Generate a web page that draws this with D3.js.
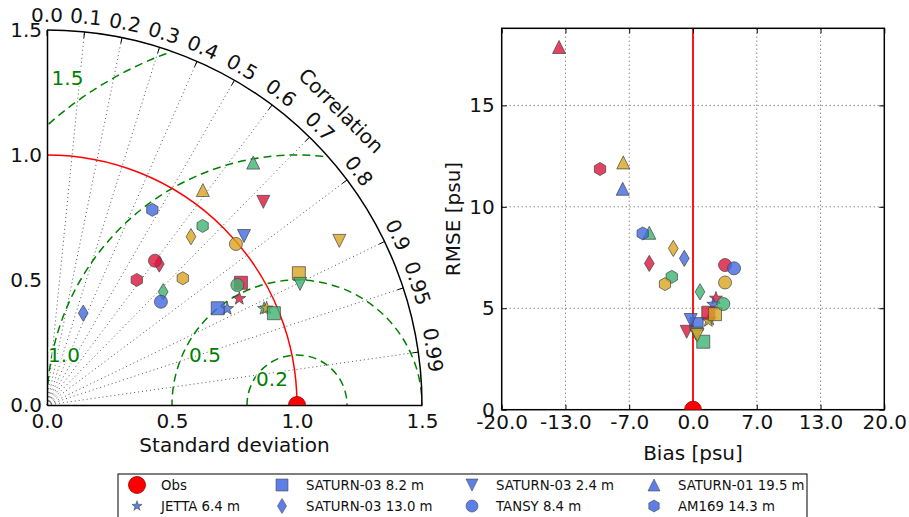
<!DOCTYPE html>
<html>
<head>
<meta charset="utf-8">
<title>Taylor diagram | bias and RMSE</title>
<script src="https://d3js.org/d3.v7.min.js"></script>
<style>
body {
    margin: 0;
    background: white;
}
svg text {
    font-family: "DejaVu Sans", sans-serif;
}
</style>
</head>
<body>
<script>
// one marker per station, one colour per column of the value tables
var stations = ["JETTA 6.4 m", "SATURN-03 8.2 m", "SATURN-03 13.0 m", "SATURN-03 2.4 m",
                "TANSY 8.4 m", "SATURN-01 19.5 m", "AM169 14.3 m"];
var markers = ["star", "square", "diamond", "triDown", "circle", "triUp", "hexagon"];
var colors = ["#dc143c", "#4169e1", "#3cb371", "#daa520"];

// normalised standard deviation (rows = stations, cols = colors); null = outside the diagram
var stdDev = [
  [0.879, 0.817, 0.950, 0.960],
  [0.917, 0.785, 0.979, 1.137],
  [0.721, 0.395, 0.649, 0.886],
  [1.187, 1.038, 1.122, 1.341],
  [0.721, 0.615, 0.900, 0.993],
  [null,  null,  1.273, 1.062],
  [0.616, 0.887, 0.949, 0.743]
];
var corrCoef = [
  [0.875, 0.882, 0.914, 0.915],
  [0.846, 0.870, 0.927, 0.886],
  [0.623, 0.367, 0.716, 0.650],
  [0.729, 0.759, 0.902, 0.872],
  [0.599, 0.741, 0.846, 0.761],
  [null,  null,  0.648, 0.587],
  [0.583, 0.475, 0.656, 0.731]
];
// bias [psu] and RMSE [psu]
var bias = [
  [2.40, 2.12, 1.75, 1.60],
  [1.60, 0.38, 1.07, 2.30],
  [-4.57, -0.91, 0.73, -2.06],
  [-0.66, -0.24, 0.30, 0.45],
  [3.35, 4.29, 3.17, 3.35],
  [-14.0, -7.35, -4.57, -7.29],
  [-9.72, -5.26, -2.22, -2.93]
];
var rmse = [
  [5.49, 5.19, 4.45, 4.38],
  [4.78, 4.22, 3.35, 4.71],
  [7.21, 7.46, 5.81, 7.95],
  [3.84, 4.42, 3.75, 3.68],
  [7.13, 6.97, 5.21, 6.27],
  [17.88, 10.89, 8.72, 12.19],
  [11.86, 8.69, 6.55, 6.19]
];

var corrTicks = [0, 0.1, 0.2, 0.3, 0.4, 0.5, 0.6, 0.7, 0.8, 0.9, 0.95, 0.99];
var stdTicks = [0, 0.5, 1.0, 1.5];
var rmsLevels = [0.2, 0.5, 1.0, 1.5];
var biasTickLabels = ["-20.0", "-13.0", "-7.0", "0.0", "7.0", "13.0", "20.0"];
var rmseTicks = [0, 5, 10, 15];

var width = 909, height = 517;
var fs = 20;   // axis font size
var svg = d3.select("body").append("svg")
    .attr("width", width)
    .attr("height", height);

// marker shapes, s = half size in px
function markerPath(type, s) {
  var p = d3.path();
  if (type == "circle") {
    p.arc(0, 0, s, 0, 2 * Math.PI);
  } else if (type == "square") {
    p.rect(-s, -s, 2 * s, 2 * s);
  } else if (type == "triUp") {
    p.moveTo(0, -s); p.lineTo(s, s); p.lineTo(-s, s); p.closePath();
  } else if (type == "triDown") {
    p.moveTo(0, s); p.lineTo(s, -s); p.lineTo(-s, -s); p.closePath();
  } else if (type == "diamond") {
    s = s * 1.25;
    p.moveTo(0, -s); p.lineTo(0.6 * s, 0); p.lineTo(0, s); p.lineTo(-0.6 * s, 0); p.closePath();
  } else if (type == "hexagon") {
    for (var k = 0; k < 6; k++) {
      var a = -Math.PI / 2 + k * Math.PI / 3;
      if (k == 0) p.moveTo(s * Math.cos(a), s * Math.sin(a));
      else p.lineTo(s * Math.cos(a), s * Math.sin(a));
    }
    p.closePath();
  } else if (type == "star") {
    s = s * 1.05;
    for (var k = 0; k < 10; k++) {
      var a = -Math.PI / 2 + k * Math.PI / 5;
      var r = k % 2 == 0 ? s : s * 0.4;
      if (k == 0) p.moveTo(r * Math.cos(a), r * Math.sin(a));
      else p.lineTo(r * Math.cos(a), r * Math.sin(a));
    }
    p.closePath();
  }
  return p.toString();
}
function drawMarker(g, type, color, x, y, s) {
  g.append("path")
    .attr("d", markerPath(type, s))
    .attr("transform", "translate(" + x + "," + y + ")")
    .attr("fill", color)
    .attr("fill-opacity", 0.8)
    .attr("stroke", "#444")
    .attr("stroke-opacity", 0.8)
    .attr("stroke-width", 0.9);
}

// ===== Taylor diagram =====
var ox = 47, oy = 405, R = 375;
var rScale = d3.scaleLinear().domain([0, 1.5]).range([0, R]);
function polar(sd, c) {
  var t = Math.acos(c);
  return [ox + rScale(sd) * Math.cos(t), oy - rScale(sd) * Math.sin(t)];
}
function xy(x, y) { return [ox + rScale(x), oy - rScale(y)]; }

var defs = svg.append("defs");
defs.append("clipPath").attr("id", "quarter")
  .append("path")
  .attr("d", "M" + ox + "," + oy + "L" + (ox + R) + "," + oy +
       "A" + R + "," + R + " 0 0 0 " + ox + "," + (oy - R) + "Z");
defs.append("clipPath").attr("id", "aboveAxis")
  .append("rect").attr("x", 0).attr("y", 0).attr("width", 460).attr("height", oy);

var tg = svg.append("g");

// radial correlation grid
tg.selectAll(".rgrid")
  .data(corrTicks.filter(function(c) { return c > 0; }))
  .enter().append("line")
  .attr("x1", ox).attr("y1", oy)
  .attr("x2", function(c) { return polar(1.5, c)[0]; })
  .attr("y2", function(c) { return polar(1.5, c)[1]; })
  .attr("stroke", "#555")
  .attr("stroke-width", 1)
  .attr("stroke-dasharray", "1,3");

// centred RMS difference contours
var ref = xy(1, 0);
tg.append("g").attr("clip-path", "url(#quarter)")
  .selectAll("circle")
  .data(rmsLevels)
  .enter().append("circle")
  .attr("cx", ref[0]).attr("cy", ref[1])
  .attr("r", function(d) { return rScale(d); })
  .attr("fill", "none")
  .attr("stroke", "#008000")
  .attr("stroke-width", 1.5)
  .attr("stroke-dasharray", "8,5");

// reference std arc
tg.append("path")
  .attr("d", "M" + (ox + rScale(1)) + "," + oy + "A" + rScale(1) + "," + rScale(1) +
       " 0 0 0 " + ox + "," + (oy - rScale(1)))
  .attr("fill", "none").attr("stroke", "red").attr("stroke-width", 1.5);

// outer arc
tg.append("path")
  .attr("d", "M" + (ox + R) + "," + oy + "A" + R + "," + R + " 0 0 0 " + ox + "," + (oy - R))
  .attr("fill", "none").attr("stroke", "black").attr("stroke-width", 1.5);

// std axes
var yStd = d3.scaleLinear().domain([0, 1.5]).range([oy, oy - R]);
var xStd = d3.scaleLinear().domain([0, 1.5]).range([ox, ox + R]);
var fmt1 = d3.format(".1f");
var axL = tg.append("g").attr("transform", "translate(" + ox + ",0)")
  .call(d3.axisLeft(yStd).tickValues(stdTicks).tickFormat(fmt1).tickSize(0).tickPadding(5));
var axB = tg.append("g").attr("transform", "translate(0," + oy + ")")
  .call(d3.axisBottom(xStd).tickValues(stdTicks).tickFormat(fmt1).tickSize(0).tickPadding(9));
[axL, axB].forEach(function(a) {
  a.select(".domain").attr("stroke", "black").attr("stroke-width", 1.5);
  a.selectAll("text").attr("font-size", fs).attr("fill", "#111");
});

tg.append("text")
  .attr("x", ox + R / 2).attr("y", 452)
  .attr("text-anchor", "middle")
  .attr("font-size", fs).attr("fill", "#111")
  .text("Standard deviation");

// correlation ticks and labels
corrTicks.forEach(function(c) {
  var t = Math.acos(c);
  var p1 = polar(1.5, c);
  var p0 = [ox + (R - 6) * Math.cos(t), oy - (R - 6) * Math.sin(t)];
  tg.append("line")
    .attr("x1", p0[0]).attr("y1", p0[1]).attr("x2", p1[0]).attr("y2", p1[1])
    .attr("stroke", "black").attr("stroke-width", 1);
  var rl = R + 15;
  var lx = ox + rl * Math.cos(t), ly = oy - rl * Math.sin(t);
  tg.append("text")
    .attr("transform", "translate(" + lx + "," + ly + ") rotate(" + (90 - t * 180 / Math.PI) + ")")
    .attr("text-anchor", "middle")
    .attr("dy", "0.35em")
    .attr("font-size", fs).attr("fill", "#111")
    .text(c == 0 ? "0.0" : String(c));
});
var ct = Math.PI / 4, cr = R + 41;
tg.append("text")
  .attr("transform", "translate(" + (ox + cr * Math.cos(ct)) + "," + (oy - cr * Math.sin(ct)) + ") rotate(45)")
  .attr("text-anchor", "middle")
  .attr("dy", "0.35em")
  .attr("font-size", fs).attr("fill", "#111")
  .text("Correlation");

// contour labels
var rmsLabelAt = [[0.9, 0.104], [0.632, 0.2], [0.068, 0.2], [0.082, 1.31]];
rmsLevels.forEach(function(lv, i) {
  var p = xy(rmsLabelAt[i][0], rmsLabelAt[i][1]);
  tg.append("text")
    .attr("x", p[0]).attr("y", p[1])
    .attr("dy", "0.35em")
    .attr("text-anchor", "middle")
    .attr("font-size", fs)
    .attr("fill", "#008000")
    .attr("stroke", "white").attr("stroke-width", 3)
    .attr("paint-order", "stroke")
    .text(fmt1(lv));
});

// model points
stations.forEach(function(st, i) {
  colors.forEach(function(col, j) {
    if (stdDev[i][j] == null) return;
    var p = polar(stdDev[i][j], corrCoef[i][j]);
    drawMarker(tg, markers[i], col, p[0], p[1], 6.5);
  });
});
// observation
tg.append("circle").attr("clip-path", "url(#aboveAxis)")
  .attr("cx", ref[0]).attr("cy", ref[1]).attr("r", 8.5)
  .attr("fill", "red").attr("stroke", "#900").attr("stroke-width", 0.8);

// ===== Bias / RMSE scatter =====
var x0 = 501.7, x1 = 884.3, y0 = 409.7, y1 = 28.3;
var xB = d3.scaleLinear().domain([-20, 20]).range([x0, x1]);
var yR = d3.scaleLinear().domain([0, 18.8]).range([y0, y1]);
var xTickVals = d3.range(biasTickLabels.length).map(function(i) {
  return -20 + i * 40 / (biasTickLabels.length - 1);
});

var sg = svg.append("g");
defs.append("clipPath").attr("id", "plotArea")
  .append("rect").attr("x", x0).attr("y", y1).attr("width", x1 - x0).attr("height", y0 - y1);

// grid
sg.selectAll(".vgrid").data(xTickVals.slice(1, -1)).enter().append("line")
  .attr("x1", function(d) { return xB(d); }).attr("x2", function(d) { return xB(d); })
  .attr("y1", y0).attr("y2", y1)
  .attr("stroke", "#555").attr("stroke-dasharray", "1,3");
sg.selectAll(".hgrid").data(rmseTicks.slice(1)).enter().append("line")
  .attr("y1", function(d) { return yR(d); }).attr("y2", function(d) { return yR(d); })
  .attr("x1", x0).attr("x2", x1)
  .attr("stroke", "#555").attr("stroke-dasharray", "1,3");

// zero-bias line
sg.append("line")
  .attr("x1", xB(0)).attr("x2", xB(0)).attr("y1", y0).attr("y2", y1)
  .attr("stroke", "red").attr("stroke-width", 1.8);

// axes, ticks inward on all sides
var axX = sg.append("g").attr("transform", "translate(0," + y0 + ")")
  .call(d3.axisBottom(xB).tickValues(xTickVals)
    .tickFormat(function(d, i) { return biasTickLabels[i]; })
    .tickSizeInner(-5).tickSizeOuter(0).tickPadding(5));
var axY = sg.append("g").attr("transform", "translate(" + x0 + ",0)")
  .call(d3.axisLeft(yR).tickValues(rmseTicks).tickFormat(d3.format("d"))
    .tickSizeInner(-5).tickSizeOuter(0).tickPadding(7));
var axT = sg.append("g").attr("transform", "translate(0," + y1 + ")")
  .call(d3.axisTop(xB).tickValues(xTickVals).tickFormat("").tickSizeInner(-5).tickSizeOuter(0));
var axR = sg.append("g").attr("transform", "translate(" + x1 + ",0)")
  .call(d3.axisRight(yR).tickValues(rmseTicks).tickFormat("").tickSizeInner(-5).tickSizeOuter(0));
[axX, axY, axT, axR].forEach(function(a) {
  a.select(".domain").remove();
  a.selectAll("line").attr("stroke", "black");
  a.selectAll("text").attr("font-size", fs).attr("fill", "#111");
});
sg.append("rect")
  .attr("x", x0).attr("y", y1).attr("width", x1 - x0).attr("height", y0 - y1)
  .attr("fill", "none").attr("stroke", "black").attr("stroke-width", 1.5);

sg.append("text")
  .attr("x", (x0 + x1) / 2).attr("y", 460)
  .attr("text-anchor", "middle")
  .attr("font-size", fs).attr("fill", "#111")
  .text("Bias [psu]");
sg.append("text")
  .attr("transform", "translate(460," + ((y0 + y1) / 2) + ") rotate(-90)")
  .attr("text-anchor", "middle")
  .attr("font-size", fs).attr("fill", "#111")
  .text("RMSE [psu]");

var pg = sg.append("g").attr("clip-path", "url(#plotArea)");
stations.forEach(function(st, i) {
  colors.forEach(function(col, j) {
    drawMarker(pg, markers[i], col, xB(bias[i][j]), yR(rmse[i][j]), 6.5);
  });
});
pg.append("circle")
  .attr("cx", xB(0)).attr("cy", yR(0)).attr("r", 8.5)
  .attr("fill", "red").attr("stroke", "#900").attr("stroke-width", 0.8);

// ===== legend =====
var lg = svg.append("g");
lg.append("rect")
  .attr("x", 118).attr("y", 474).attr("width", 689).attr("height", 60)
  .attr("fill", "white").attr("stroke", "black").attr("stroke-width", 1);
var legItems = [{ name: "Obs", marker: "obs" }].concat(stations.map(function(s, i) {
  return { name: s, marker: markers[i] };
}));
var colX = [137, 282, 472, 654];
var rowY = [485, 506];
legItems.forEach(function(it, k) {
  var cx = colX[Math.floor(k / 2)], cy = rowY[k % 2];
  if (it.marker == "obs") {
    lg.append("circle").attr("cx", cx).attr("cy", cy).attr("r", 8.5)
      .attr("fill", "red").attr("stroke", "#900").attr("stroke-width", 0.8);
  } else {
    lg.append("path")
      .attr("d", markerPath(it.marker, it.marker == "star" ? 5 : 6))
      .attr("transform", "translate(" + cx + "," + cy + ")")
      .attr("fill", "#4169e1").attr("fill-opacity", 0.85)
      .attr("stroke", "#444").attr("stroke-opacity", 0.7).attr("stroke-width", 0.8);
  }
  lg.append("text")
    .attr("x", cx + 24).attr("y", cy)
    .attr("dy", "0.35em")
    .attr("font-size", 13.3).attr("fill", "#111")
    .text(it.name);
});
</script>
</body>
</html>
